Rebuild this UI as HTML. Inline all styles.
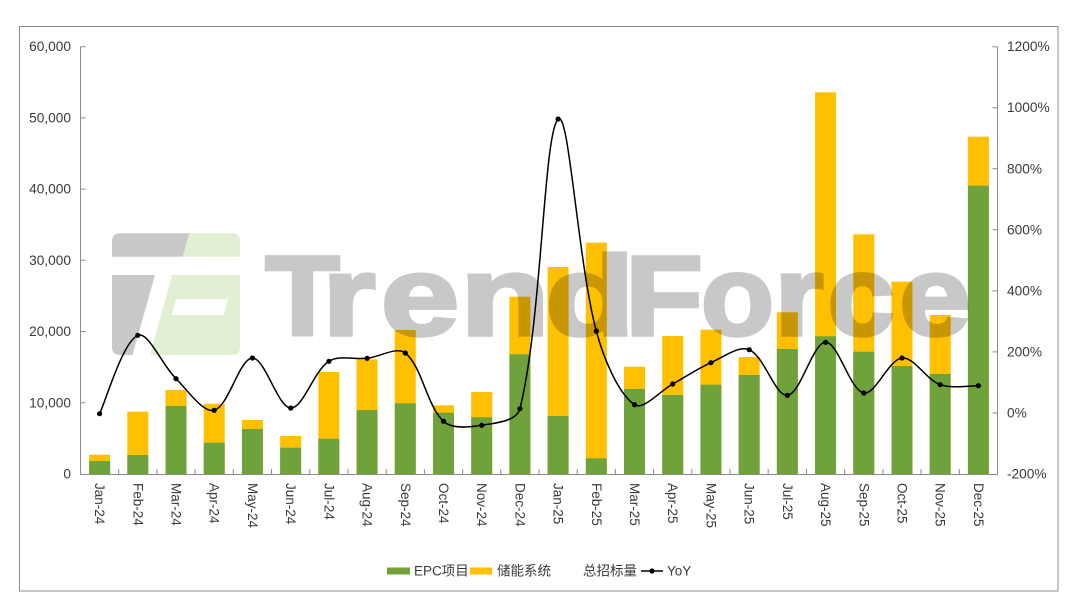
<!DOCTYPE html>
<html>
<head>
<meta charset="utf-8">
<style>
  html,body{margin:0;padding:0;background:#fff;}
  svg{display:block;}
  text{font-family:"Liberation Sans","Noto Sans CJK SC",sans-serif;fill:#3a3a3a;}
  .wm text{fill:#000;stroke:#000;stroke-width:3.5;font-weight:bold;font-size:113px;}
</style>
</head>
<body>
<svg width="1080" height="608" viewBox="0 0 1080 608" xmlns="http://www.w3.org/2000/svg">
  <rect x="0" y="0" width="1080" height="608" fill="#fff"/>
  <!-- outer frame -->
  <rect x="19.5" y="26.5" width="1038.5" height="564.5" fill="none" stroke="#8c8c8c" stroke-width="1"/>

  <!-- bars: yellow total, green EPC -->
  <g fill="#FFC000">
    <rect x="89.1" y="454.7" width="21" height="19.3"/>
    <rect x="127.31" y="411.7" width="21" height="62.3"/>
    <rect x="165.52" y="390" width="21" height="84"/>
    <rect x="203.73" y="403.7" width="21" height="70.3"/>
    <rect x="241.94" y="420" width="21" height="54"/>
    <rect x="280.15" y="436" width="21" height="38"/>
    <rect x="318.35" y="372" width="21" height="102"/>
    <rect x="356.56" y="359.3" width="21" height="114.7"/>
    <rect x="394.77" y="330" width="21" height="144"/>
    <rect x="432.98" y="405.3" width="21" height="68.7"/>
    <rect x="471.19" y="392" width="21" height="82"/>
    <rect x="509.4" y="296.7" width="21" height="177.3"/>
    <rect x="547.6" y="267" width="21" height="207"/>
    <rect x="585.81" y="242.7" width="21" height="231.3"/>
    <rect x="624.02" y="366.7" width="21" height="107.3"/>
    <rect x="662.23" y="336" width="21" height="138"/>
    <rect x="700.44" y="329.7" width="21" height="144.3"/>
    <rect x="738.65" y="357" width="21" height="117"/>
    <rect x="776.85" y="312.3" width="21" height="161.7"/>
    <rect x="815.06" y="92.3" width="21" height="381.7"/>
    <rect x="853.27" y="234.3" width="21" height="239.7"/>
    <rect x="891.48" y="281.7" width="21" height="192.3"/>
    <rect x="929.69" y="315" width="21" height="159"/>
    <rect x="967.9" y="136.7" width="21" height="337.3"/>
  </g>
  <g fill="#6FA23A">
    <rect x="89.1" y="461" width="21" height="13"/>
    <rect x="127.31" y="455" width="21" height="19"/>
    <rect x="165.52" y="406" width="21" height="68"/>
    <rect x="203.73" y="442.7" width="21" height="31.3"/>
    <rect x="241.94" y="429" width="21" height="45"/>
    <rect x="280.15" y="447.7" width="21" height="26.3"/>
    <rect x="318.35" y="438.7" width="21" height="35.3"/>
    <rect x="356.56" y="410" width="21" height="64"/>
    <rect x="394.77" y="403.3" width="21" height="70.7"/>
    <rect x="432.98" y="412.7" width="21" height="61.3"/>
    <rect x="471.19" y="417.3" width="21" height="56.7"/>
    <rect x="509.4" y="354.3" width="21" height="119.7"/>
    <rect x="547.6" y="416" width="21" height="58"/>
    <rect x="585.81" y="458.3" width="21" height="15.7"/>
    <rect x="624.02" y="389" width="21" height="85"/>
    <rect x="662.23" y="395" width="21" height="79"/>
    <rect x="700.44" y="384.7" width="21" height="89.3"/>
    <rect x="738.65" y="375" width="21" height="99"/>
    <rect x="776.85" y="349" width="21" height="125"/>
    <rect x="815.06" y="336.3" width="21" height="137.7"/>
    <rect x="853.27" y="351.7" width="21" height="122.3"/>
    <rect x="891.48" y="366" width="21" height="108"/>
    <rect x="929.69" y="374" width="21" height="100"/>
    <rect x="967.9" y="185.7" width="21" height="288.3"/>
  </g>

  <!-- watermark -->
  <g>
    <path d="M189.3,233.3 L232,233.3 Q240,233.3 240,241.3 L240,256.7 L182.7,256.7 Z" fill="#E3EFD2"/>
    <path d="M172,275 L240,275 L240,347 Q240,355 232,355 L150,355 Z" fill="#E3EFD2"/>
    <path d="M176,299.5 L228,299.5 L224,315 L171.5,315 Z" fill="#fff"/>
    <g fill="#000" fill-opacity="0.21">
      <path d="M120,233.3 L189.3,233.3 L182.7,256.7 L112,256.7 L112,241.3 Q112,233.3 120,233.3 Z"/>
      <path d="M112,275 L155,275 L132.5,355 L120,355 Q112,355 112,347 Z"/>
    </g>
    <g class="wm" opacity="0.21" text-anchor="middle">
      <text transform="translate(302.5,335) scale(1.08,1)">T</text>
      <text transform="translate(349,335) scale(1.21,1)">r</text>
      <text transform="translate(420,335) scale(1.25,1)">e</text>
      <text transform="translate(505,335) scale(1.3,1)">n</text>
      <text transform="translate(590,335) scale(1.3,1)">d</text>
      <text transform="translate(664,335) scale(1.13,1)">F</text>
      <text transform="translate(737.5,335) scale(1.06,1)">o</text>
      <text transform="translate(799,335) scale(1.12,1)">r</text>
      <text transform="translate(861,335) scale(1.07,1)">c</text>
      <text transform="translate(935,335) scale(1.14,1)">e</text>
    </g>
  </g>

  <!-- axes -->
  <g stroke="#8c8c8c" stroke-width="1" fill="none">
    <line x1="80.5" y1="46.5" x2="80.5" y2="474.5"/>
    <line x1="997.5" y1="46.5" x2="997.5" y2="474.5"/>
    <line x1="80.5" y1="474.5" x2="997.5" y2="474.5"/>
    <path d="M80.5,46.7H85.5 M80.5,117.9H85.5 M80.5,189.1H85.5 M80.5,260.3H85.5 M80.5,331.5H85.5 M80.5,402.8H85.5"/>
    <path d="M992.5,46.7H997.5 M992.5,107.7H997.5 M992.5,168.8H997.5 M992.5,229.8H997.5 M992.5,290.9H997.5 M992.5,351.9H997.5 M992.5,413H997.5"/>
    <path d="M118.7,469V474 M156.9,469V474 M195.1,469V474 M233.3,469V474 M271.5,469V474 M309.8,469V474 M348,469V474 M386.2,469V474 M424.4,469V474 M462.6,469V474 M500.8,469V474 M539,469V474 M577.2,469V474 M615.4,469V474 M653.6,469V474 M691.8,469V474 M730,469V474 M768.2,469V474 M806.5,469V474 M844.7,469V474 M882.9,469V474 M921.1,469V474 M959.3,469V474"/>
  </g>

  <!-- left axis labels -->
  <g font-size="13.7" text-anchor="end" dominant-baseline="central">
    <text x="71" y="46.7">60,000</text>
    <text x="71" y="117.9">50,000</text>
    <text x="71" y="189.1">40,000</text>
    <text x="71" y="260.3">30,000</text>
    <text x="71" y="331.5">20,000</text>
    <text x="71" y="402.8">10,000</text>
    <text x="71" y="474">0</text>
  </g>
  <!-- right axis labels -->
  <g font-size="13.7" text-anchor="start" dominant-baseline="central">
    <text x="1007" y="46.7">1200%</text>
    <text x="1007" y="107.7">1000%</text>
    <text x="1007" y="168.8">800%</text>
    <text x="1007" y="229.8">600%</text>
    <text x="1007" y="290.9">400%</text>
    <text x="1007" y="351.9">200%</text>
    <text x="1007" y="413">0%</text>
    <text x="1007" y="474">-200%</text>
  </g>

  <!-- x labels rotated -->
  <g font-size="13.5" dominant-baseline="central">
    <text transform="translate(99.6,483) rotate(90)">Jan-24</text>
    <text transform="translate(137.8,483) rotate(90)">Feb-24</text>
    <text transform="translate(176,483) rotate(90)">Mar-24</text>
    <text transform="translate(214.2,483) rotate(90)">Apr-24</text>
    <text transform="translate(252.4,483) rotate(90)">May-24</text>
    <text transform="translate(290.7,483) rotate(90)">Jun-24</text>
    <text transform="translate(328.9,483) rotate(90)">Jul-24</text>
    <text transform="translate(367.1,483) rotate(90)">Aug-24</text>
    <text transform="translate(405.3,483) rotate(90)">Sep-24</text>
    <text transform="translate(443.5,483) rotate(90)">Oct-24</text>
    <text transform="translate(481.7,483) rotate(90)">Nov-24</text>
    <text transform="translate(519.9,483) rotate(90)">Dec-24</text>
    <text transform="translate(558.1,483) rotate(90)">Jan-25</text>
    <text transform="translate(596.3,483) rotate(90)">Feb-25</text>
    <text transform="translate(634.5,483) rotate(90)">Mar-25</text>
    <text transform="translate(672.7,483) rotate(90)">Apr-25</text>
    <text transform="translate(710.9,483) rotate(90)">May-25</text>
    <text transform="translate(749.2,483) rotate(90)">Jun-25</text>
    <text transform="translate(787.4,483) rotate(90)">Jul-25</text>
    <text transform="translate(825.6,483) rotate(90)">Aug-25</text>
    <text transform="translate(863.8,483) rotate(90)">Sep-25</text>
    <text transform="translate(902,483) rotate(90)">Oct-25</text>
    <text transform="translate(940.2,483) rotate(90)">Nov-25</text>
    <text transform="translate(978.4,483) rotate(90)">Dec-25</text>
  </g>

  <!-- YoY smoothed line -->
  <path fill="none" stroke="#000" stroke-width="1.5" d="M99.6,413.7
    C105.97,400.63 122.48,342.32 137.8,335.3
    C147.95,330.65 162.29,365.24 176,378.7
    C187.76,390.24 203.16,413.29 214.2,410.3
    C228.62,406.39 239.48,358.39 252.4,358
    C264.94,357.62 277.7,407.44 290.7,408
    C303.16,408.54 313.32,371.43 328.9,361.3
    C338.79,354.86 354.42,359.68 367.1,358.3
    C379.88,356.91 396.89,346.06 405.3,353
    C422.36,367.07 426.41,405.13 443.5,421.3
    C451.88,429.23 469.49,427.31 481.7,425.3
    C494.96,423.11 516.72,421.45 519.9,408.7
    C542.19,319.35 543.44,133.91 558.1,119
    C568.91,108.01 577.92,262.26 596.3,331
    C603.38,357.48 617.78,393.1 634.5,404.7
    C643.25,410.77 660.01,390.98 672.7,384
    C685.47,376.98 697.65,368.65 710.9,362.7
    C723.12,357.22 738.92,345.31 749.2,349.7
    C764.38,356.18 775.26,396.48 787.4,395.3
    C800.72,394.01 812.69,342.69 825.6,342.3
    C838.15,341.92 849.77,390.12 863.8,393
    C875.24,395.35 888.59,359.46 902,358
    C914.06,356.69 926.2,379.63 940.2,384.7
    C951.68,388.86 972.03,385.53 978.4,385.7"/>
  <g fill="#000">
    <circle cx="99.6" cy="413.7" r="2.6"/>
    <circle cx="137.8" cy="335.3" r="2.6"/>
    <circle cx="176" cy="378.7" r="2.6"/>
    <circle cx="214.2" cy="410.3" r="2.6"/>
    <circle cx="252.4" cy="358" r="2.6"/>
    <circle cx="290.7" cy="408" r="2.6"/>
    <circle cx="328.9" cy="361.3" r="2.6"/>
    <circle cx="367.1" cy="358.3" r="2.6"/>
    <circle cx="405.3" cy="353" r="2.6"/>
    <circle cx="443.5" cy="421.3" r="2.6"/>
    <circle cx="481.7" cy="425.3" r="2.6"/>
    <circle cx="519.9" cy="408.7" r="2.6"/>
    <circle cx="558.1" cy="119" r="2.6"/>
    <circle cx="596.3" cy="331" r="2.6"/>
    <circle cx="634.5" cy="404.7" r="2.6"/>
    <circle cx="672.7" cy="384" r="2.6"/>
    <circle cx="710.9" cy="362.7" r="2.6"/>
    <circle cx="749.2" cy="349.7" r="2.6"/>
    <circle cx="787.4" cy="395.3" r="2.6"/>
    <circle cx="825.6" cy="342.3" r="2.6"/>
    <circle cx="863.8" cy="393" r="2.6"/>
    <circle cx="902" cy="358" r="2.6"/>
    <circle cx="940.2" cy="384.7" r="2.6"/>
    <circle cx="978.4" cy="385.7" r="2.6"/>
  </g>

  <!-- legend -->
  <rect x="387" y="567.5" width="23" height="7" fill="#6FA23A"/>
  <rect x="470" y="567.5" width="22" height="7" fill="#FFC000"/>
  <line x1="641" y1="571" x2="663" y2="571" stroke="#000" stroke-width="1.5"/>
  <circle cx="652" cy="571" r="2.6" fill="#000"/>
  <g font-size="13.5" dominant-baseline="central">
    <text x="414" y="571">EPC项目</text>
    <text x="497" y="571">储能系统</text>
    <text x="583" y="571">总招标量</text>
    <text x="667" y="571">YoY</text>
  </g>
</svg>
</body>
</html>
